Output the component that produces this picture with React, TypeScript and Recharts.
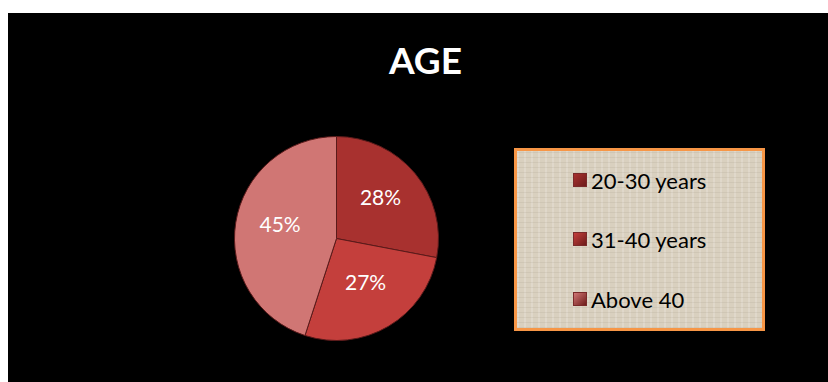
import React from "react";
import { PieChart, Pie, Cell, Legend } from "recharts";

const categories = ["20-30 years", "31-40 years", "Above 40"];
const values = [28, 27, 45];
const colors = ["#a8312f", "#c43f3c", "#d07674"];
const title = "AGE";

const data = categories.map((name, i) => ({ name, value: values[i] }));

const RAD = Math.PI / 180;

const renderLabel = (props: any) => {
  const { cx, cy, midAngle, outerRadius, value } = props;
  const r = outerRadius * 0.56;
  const x = cx + r * Math.cos(-midAngle * RAD);
  const y = cy + r * Math.sin(-midAngle * RAD) - 6;
  return (
    <text
      x={x}
      y={y}
      fill="#ffffff"
      textAnchor="middle"
      dominantBaseline="central"
      fontFamily="Lato, 'Open Sans', sans-serif"
      fontSize={21}
    >
      {`${value}%`}
    </text>
  );
};

const renderLegend = () => (
  <div
    style={{
      boxSizing: "border-box",
      width: 251,
      height: 183,
      border: "3px solid #f79646",
      backgroundColor: "#d9d0bf",
      backgroundImage:
        "repeating-linear-gradient(0deg, rgba(120,110,90,0.10) 0px, rgba(120,110,90,0.10) 1px, transparent 1px, transparent 5px), repeating-linear-gradient(90deg, rgba(255,255,255,0.18) 0px, rgba(255,255,255,0.18) 2px, transparent 2px, transparent 7px)",
      position: "relative",
      fontFamily: "Lato, 'Open Sans', sans-serif",
    }}
  >
    {categories.map((c, i) => (
      <div
        key={c}
        style={{
          position: "absolute",
          left: 56,
          top: [29, 88, 148][i] - 13,
          height: 26,
          display: "flex",
          alignItems: "center",
          fontSize: 22,
          color: "#000",
          whiteSpace: "nowrap",
        }}
      >
        <span
          style={{
            display: "inline-block",
            width: 12,
            height: 12,
            marginRight: 4,
            background: `linear-gradient(135deg, ${colors[i]}, #6e1c1b)`,
            border: "1px solid #7a2a2a",
          }}
        />
        {c}
      </div>
    ))}
  </div>
);

export default function App() {
  return (
    <div
      style={{
        position: "fixed",
        left: 8,
        top: 13,
        width: 820,
        height: 369,
        background: "#000",
      }}
    >
      <svg
        width={820}
        height={100}
        style={{ position: "absolute", left: 0, top: 0, pointerEvents: "none" }}
      >
        <text
          x={417.5}
          y={61}
          textAnchor="middle"
          fill="#ffffff"
          fontFamily="Lato, 'Open Sans', sans-serif"
          fontWeight="bold"
          fontSize={37}
        >
          {title}
        </text>
      </svg>
      <div style={{ position: "absolute", left: 0, top: 0 }}>
        <PieChart width={820} height={369} margin={{ top: 0, right: 0, bottom: 0, left: 0 }}>
          <Pie
            data={data}
            dataKey="value"
            nameKey="name"
            cx={328.5}
            cy={225.5}
            outerRadius={102}
            startAngle={90}
            endAngle={-270}
            stroke="#5a1a1a"
            strokeWidth={1}
            label={renderLabel}
            labelLine={false}
            isAnimationActive={false}
          >
            {data.map((d, i) => (
              <Cell key={d.name} fill={colors[i]} />
            ))}
          </Pie>
          <Legend
            content={renderLegend}
            wrapperStyle={{ left: 506, top: 135, width: 251, height: 183 }}
          />
        </PieChart>
      </div>
    </div>
  );
}
